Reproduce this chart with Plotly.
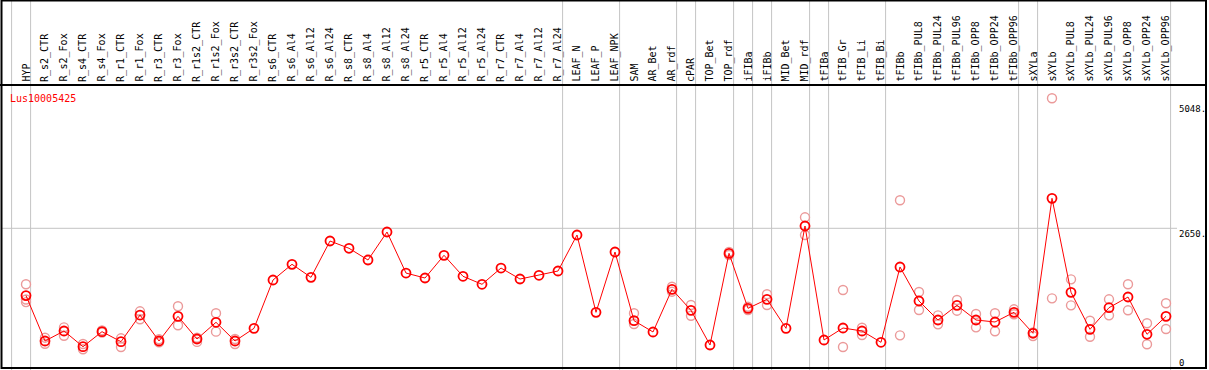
import plotly.graph_objects as go

categories = [
    "HYP", "R_s2_CTR", "R_s2_Fox", "R_s4_CTR", "R_s4_Fox", "R_r1_CTR", "R_r1_Fox",
    "R_r3_CTR", "R_r3_Fox", "R_r1s2_CTR", "R_r1s2_Fox", "R_r3s2_CTR", "R_r3s2_Fox",
    "R_s6_CTR", "R_s6_Al4", "R_s6_Al12", "R_s6_Al24", "R_s8_CTR", "R_s8_Al4",
    "R_s8_Al12", "R_s8_Al24", "R_r5_CTR", "R_r5_Al4", "R_r5_Al12", "R_r5_Al24",
    "R_r7_CTR", "R_r7_Al4", "R_r7_Al12", "R_r7_Al24", "LEAF_N", "LEAF_P", "LEAF_NPK",
    "SAM", "AR_Bet", "AR_rdf", "cPAR", "TOP_Bet", "TOP_rdf", "iFIBa", "iFIBb",
    "MID_Bet", "MID_rdf", "tFIBa", "tFIB_Gr", "tFIB_Li", "tFIB_Bi", "tFIBb",
    "tFIBb_PUL8", "tFIBb_PUL24", "tFIBb_PUL96", "tFIBb_OPP8", "tFIBb_OPP24",
    "tFIBb_OPP96", "sXYLa", "sXYLb", "sXYLb_PUL8", "sXYLb_PUL24", "sXYLb_PUL96",
    "sXYLb_OPP8", "sXYLb_OPP24", "sXYLb_OPP96",
]

means = [
    1365, 497, 688, 388, 675, 484, 993,
    497, 968, 535, 854, 497, 739,
    1662, 1962, 1713, 2407, 2268, 2044,
    2579, 1795, 1700, 2134, 1733, 1580,
    1891, 1681, 1752, 1834, 2522, 1045, 2197,
    885, 669, 1484, 1083, 420, 2172, 1121, 1293,
    739, 2694, 516, 745, 688, 472, 1911,
    1261, 898, 1178, 898, 860,
    1045, 644, 3223, 1427, 720, 1133,
    1337, 625, 968,
]

rep_hi = [
    1580, 560, 758, 439, 700, 548, 1064,
    530, 1160, 560, 1026, 535, None,
    None, None, None, None, None, None,
    None, None, None, None, None, None,
    None, None, None, None, None, None, None,
    1026, None, 1534, 1185, None, 2200, 1150, 1389,
    None, 2860, None, 1471, 751, None, 3185,
    1433, 987, 1280, 1013, 1026,
    1102, 592, 5134, 1675, 885, 1293,
    1580, 835, 1217,
]

rep_lo = [
    1290, 445, 598, 338, 660, 382, 911,
    470, 797, 480, 675, 440, None,
    None, None, None, None, None, None,
    None, None, None, None, None, None,
    None, None, None, None, None, None, None,
    822, None, 1439, 980, None, 2140, 1090, 1185,
    None, 2522, None, 382, 611, None, 605,
    1089, 815, 1076, 758, 682,
    1007, 660, 1312, 1178, 579, 987,
    1083, 434, 726,
]

rep_third = {"HYP": 1240}

group_ends = ["HYP", "R_r7_Al24", "LEAF_NPK", "AR_rdf", "cPAR", "TOP_rdf", "iFIBa",
              "iFIBb", "MID_rdf", "tFIBa", "tFIB_Bi", "tFIBb_OPP96", "sXYLa", "sXYLb_OPP96"]

y_tick_values = [5048, 2650, 0]
y_tick_labels = ["5048.", "2650.", "0"]
gene_id = "Lus10005425"

W, H = 1209, 370
FONT = "DejaVu Sans Mono"
RED = "#ff0000"
PINK = "#eb9a9a"
GRID = "#c4c4c4"

# pixel geometry of the reference
col0_px, col_step = 26.0, 19.0
x_range = [-col0_px / col_step, (W - col0_px) / col_step]
y_zero_px, px_per_unit = 367.0, 138.7 / 2650.0
y_range = [-(H - y_zero_px) / px_per_unit, y_zero_px / px_per_unit]


def py(px):
    return 1 - px / H


def px_x(px):
    return px / W


rx, ry = [], []
for c, a, b in zip(categories, rep_hi, rep_lo):
    for v in (a, b):
        if v is not None:
            rx.append(c)
            ry.append(v)
for c, v in rep_third.items():
    rx.append(c)
    ry.append(v)

fig = go.Figure()
fig.add_trace(go.Scatter(
    x=categories, y=[None] * len(categories), mode="markers",
    hoverinfo="skip", showlegend=False,
))
fig.add_trace(go.Scatter(
    x=rx, y=ry, mode="markers",
    marker=dict(symbol="circle-open", size=9, color=PINK, line=dict(width=1.4, color=PINK)),
    hoverinfo="skip", showlegend=False,
))
fig.add_trace(go.Scatter(
    x=categories, y=means, mode="lines+markers",
    line=dict(color=RED, width=1),
    marker=dict(symbol="circle-open", size=9, color=RED, line=dict(width=1.8, color=RED)),
    showlegend=False,
))

shapes = []
off = 4.6 / col_step
idx_positions = [-1] + [categories.index(g) for g in group_ends]
for i in idx_positions:
    shapes.append(dict(type="line", xref="x", yref="paper", x0=i + off, x1=i + off,
                       y0=0, y1=1, line=dict(color=GRID, width=1), layer="below"))
shapes.append(dict(type="line", xref="paper", yref="y", x0=px_x(1), x1=px_x(1177),
                   y0=2650, y1=2650, line=dict(color=GRID, width=1), layer="below"))
shapes.append(dict(type="line", xref="paper", yref="paper", x0=0, x1=px_x(1206),
                   y0=py(85), y1=py(85), line=dict(color="black", width=2)))
shapes.append(dict(type="rect", xref="paper", yref="paper", x0=px_x(1.5), x1=px_x(1206),
                   y0=py(368), y1=py(0.5), line=dict(color="black", width=2)))

annotations = []
for c in categories:
    annotations.append(dict(x=c, xref="x", y=py(84), yref="paper", text=c,
                            textangle=-90, xanchor="center", yanchor="bottom",
                            showarrow=False, xshift=-0.5,
                            font=dict(family=FONT, size=10, color="black")))
annotations.append(dict(x=px_x(8), xref="paper", y=py(91), yref="paper", text=gene_id,
                        xanchor="left", yanchor="top", showarrow=False,
                        font=dict(family=FONT, size=10, color=RED)))
label_tops = {5048: 102, 2650: 227, 0: 356}
for v, t in zip(y_tick_values, y_tick_labels):
    annotations.append(dict(x=px_x(1177), xref="paper", y=py(label_tops[v]), yref="paper",
                            text=t, xanchor="left", yanchor="top", showarrow=False,
                            font=dict(family=FONT, size=9, color="black")))

fig.update_layout(
    width=W, height=H,
    margin=dict(l=0, r=0, t=0, b=0),
    paper_bgcolor="white", plot_bgcolor="white",
    xaxis=dict(range=x_range, visible=False, type="category",
               categoryorder="array", categoryarray=categories),
    yaxis=dict(range=y_range, visible=False),
    shapes=shapes, annotations=annotations,
)

fig.write_html(
    "out.html",
    config={"displayModeBar": False},
    post_script="document.body.style.margin='0';document.body.style.overflow='hidden';",
)
